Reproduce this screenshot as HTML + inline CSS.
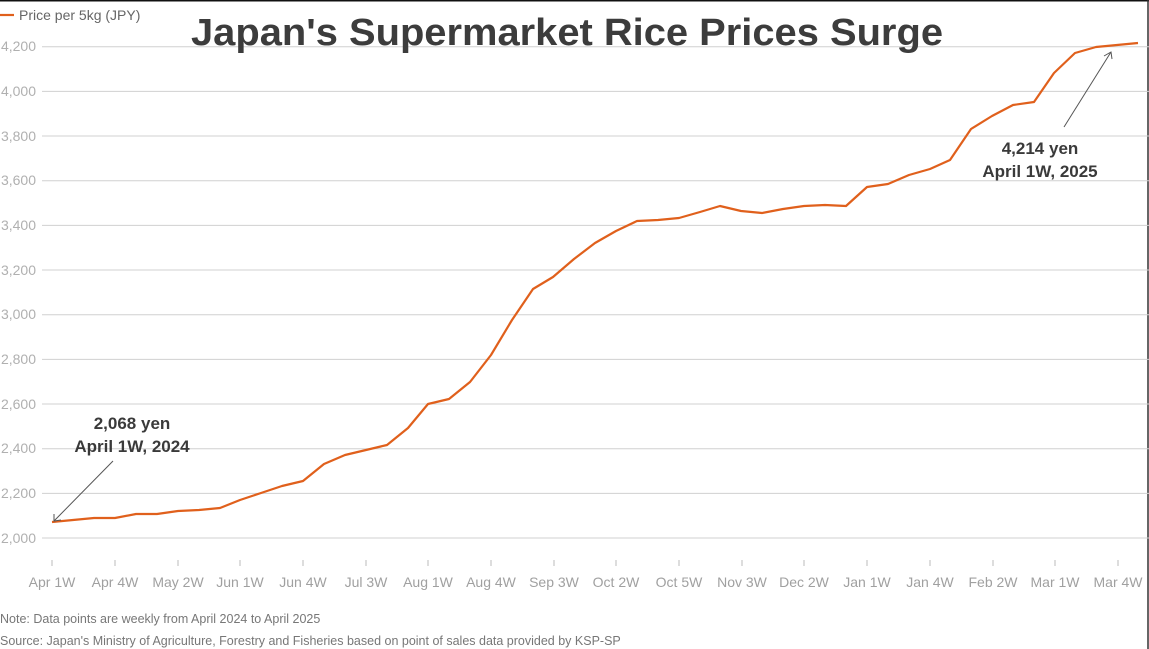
<!DOCTYPE html>
<html><head><meta charset="utf-8"><style>
html,body{margin:0;padding:0;background:#fff;}
svg{display:block;font-family:"Liberation Sans",sans-serif;}
</style></head><body>
<svg width="1149" height="649" viewBox="0 0 1149 649" xmlns="http://www.w3.org/2000/svg">
<rect x="0" y="0" width="1149" height="649" fill="#fff"/>
<line x1="0" y1="0.5" x2="1149" y2="0.5" stroke="#111" stroke-width="2"/>
<line x1="1148" y1="0" x2="1148" y2="649" stroke="#333" stroke-width="1.5"/>
<g stroke="#d0d0d0" stroke-width="1">
<line x1="42" x2="1149" y1="538" y2="538"/>
<line x1="42" x2="1149" y1="493.4" y2="493.4"/>
<line x1="42" x2="1149" y1="448.7" y2="448.7"/>
<line x1="42" x2="1149" y1="404" y2="404"/>
<line x1="42" x2="1149" y1="359.4" y2="359.4"/>
<line x1="42" x2="1149" y1="314.7" y2="314.7"/>
<line x1="42" x2="1149" y1="270" y2="270"/>
<line x1="42" x2="1149" y1="225.4" y2="225.4"/>
<line x1="42" x2="1149" y1="180.7" y2="180.7"/>
<line x1="42" x2="1149" y1="136" y2="136"/>
<line x1="42" x2="1149" y1="91.4" y2="91.4"/>
<line x1="42" x2="1149" y1="46.7" y2="46.7"/>
</g>
<g fill="#b0b0b0" font-size="14" text-anchor="end">
<text x="36" y="543">2,000</text>
<text x="36" y="498">2,200</text>
<text x="36" y="453">2,400</text>
<text x="36" y="409">2,600</text>
<text x="36" y="364">2,800</text>
<text x="36" y="319">3,000</text>
<text x="36" y="275">3,200</text>
<text x="36" y="230">3,400</text>
<text x="36" y="185">3,600</text>
<text x="36" y="141">3,800</text>
<text x="36" y="96">4,000</text>
<text x="36" y="51">4,200</text>
</g>
<g stroke="#bbb" stroke-width="1">
<line x1="52" x2="52" y1="560" y2="566"/><line x1="115" x2="115" y1="560" y2="566"/><line x1="178" x2="178" y1="560" y2="566"/><line x1="240" x2="240" y1="560" y2="566"/><line x1="303" x2="303" y1="560" y2="566"/><line x1="366" x2="366" y1="560" y2="566"/><line x1="428" x2="428" y1="560" y2="566"/><line x1="491" x2="491" y1="560" y2="566"/><line x1="554" x2="554" y1="560" y2="566"/><line x1="616" x2="616" y1="560" y2="566"/><line x1="679" x2="679" y1="560" y2="566"/><line x1="742" x2="742" y1="560" y2="566"/><line x1="804" x2="804" y1="560" y2="566"/><line x1="867" x2="867" y1="560" y2="566"/><line x1="930" x2="930" y1="560" y2="566"/><line x1="993" x2="993" y1="560" y2="566"/><line x1="1055" x2="1055" y1="560" y2="566"/><line x1="1118" x2="1118" y1="560" y2="566"/>
</g>
<g fill="#a0a0a0" font-size="14" text-anchor="middle">
<text x="52" y="587">Apr 1W</text><text x="115" y="587">Apr 4W</text><text x="178" y="587">May 2W</text><text x="240" y="587">Jun 1W</text><text x="303" y="587">Jun 4W</text><text x="366" y="587">Jul 3W</text><text x="428" y="587">Aug 1W</text><text x="491" y="587">Aug 4W</text><text x="554" y="587">Sep 3W</text><text x="616" y="587">Oct 2W</text><text x="679" y="587">Oct 5W</text><text x="742" y="587">Nov 3W</text><text x="804" y="587">Dec 2W</text><text x="867" y="587">Jan 1W</text><text x="930" y="587">Jan 4W</text><text x="993" y="587">Feb 2W</text><text x="1055" y="587">Mar 1W</text><text x="1118" y="587">Mar 4W</text>
</g>
<polyline fill="none" stroke="#e0601c" stroke-width="2.2" stroke-linejoin="round" points="52,522 73,520 94,518 115,518 136,514 157,514 178,511 199,510 220,508 240,500 261,493 282,486 303,481 324,464 345,455 366,450 387,445 408,428 428,404 449,399 470,382 491,355 512,320 533,289 553,277 574,259 595,243 616,231 637,221 658,220 679,218 700,212 720,206 741,211 762,213 783,209 804,206 825,205 846,206 867,187 888,184 909,175 930,169 950,160 971,129 992,116 1013,105 1034,102 1054,73 1075,53 1096,47 1117,45 1138,43"/>
<line x1="0" x2="14" y1="15" y2="15" stroke="#e0601c" stroke-width="2.2"/>
<text x="19" y="20" font-size="14" fill="#666">Price per 5kg (JPY)</text>
<text x="567" y="45" font-size="38" font-weight="bold" fill="#3c3c3c" text-anchor="middle" textLength="752" lengthAdjust="spacingAndGlyphs">Japan's Supermarket Rice Prices Surge</text>
<g fill="#3a3a3a" font-size="17" font-weight="bold" text-anchor="middle">
<text x="132" y="429">2,068 yen</text>
<text x="132" y="452">April 1W, 2024</text>
<text x="1040" y="154">4,214 yen</text>
<text x="1040" y="177">April 1W, 2025</text>
</g>
<g stroke="#555" stroke-width="1" fill="none">
<line x1="113" y1="461" x2="54" y2="521"/>
<polyline points="54,514 54,521 61,520"/>
<line x1="1064" y1="127" x2="1111" y2="52"/>
<polyline points="1104,56 1111,52 1112,59"/>
</g>
<text x="0" y="623" font-size="12.5" fill="#777">Note: Data points are weekly from April 2024 to April 2025</text>
<text x="0" y="645" font-size="12.5" fill="#777">Source: Japan's Ministry of Agriculture, Forestry and Fisheries based on point of sales data provided by KSP-SP</text>
</svg>
</body></html>
